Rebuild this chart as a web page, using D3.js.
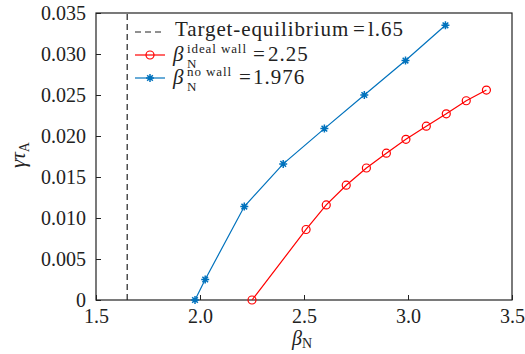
<!DOCTYPE html>
<html>
<head>
<meta charset="utf-8">
<script src="https://cdn.jsdelivr.net/npm/d3@7"></script>
<style>
  body { margin: 0; background: #fff; }
</style>
</head>
<body>
<div id="chart"></div>
<script>
// values
var idealBeta = [2.25, 2.51, 2.607, 2.703, 2.80, 2.896, 2.99, 3.088, 3.184, 3.28, 3.377];
var idealGamma = [0, 0.0086, 0.0116, 0.0140, 0.0161, 0.0179, 0.0196, 0.0212, 0.0227, 0.0243, 0.0256];
var noWallBeta = [1.976, 2.025, 2.213, 2.40, 2.598, 2.79, 2.988, 3.18];
var noWallGamma = [0, 0.0025, 0.0114, 0.0166, 0.0209, 0.0250, 0.0292, 0.0335];
var targetBeta = 1.65;
var xTicks = [1.5, 2.0, 2.5, 3.0, 3.5];
var yTicks = [0, 0.005, 0.010, 0.015, 0.020, 0.025, 0.030, 0.035];

var width = 525, height = 354;
var margin = { top: 13, right: 13, bottom: 54, left: 96 };
var serif = "'Liberation Serif', 'DejaVu Serif', serif";

var svg = d3.select("#chart").append("svg")
            .attr("width", width)
            .attr("height", height)
            .attr("font-family", serif);

var x = d3.scaleLinear().domain([1.5, 3.5]).range([margin.left, width - margin.right]);
var y = d3.scaleLinear().domain([0, 0.035]).range([height - margin.bottom, margin.top]);

var blue = "#0072BD", red = "#FF0000", ink = "#222";

// axes (ticks point inward)
var xAxis = d3.axisBottom(x).tickValues(xTicks).tickSizeInner(-5).tickSizeOuter(0)
              .tickPadding(9).tickFormat(d3.format(".1f"));
var yAxis = d3.axisLeft(y).tickValues(yTicks).tickSizeInner(-5).tickSizeOuter(0)
              .tickPadding(10).tickFormat(d => d === 0 ? "0" : d3.format(".3f")(d));

var gx = svg.append("g").attr("transform", "translate(0," + y(0) + ")").call(xAxis);
var gy = svg.append("g").attr("transform", "translate(" + x(1.5) + ",0)").call(yAxis);
[gx, gy].forEach(g => {
  g.attr("font-family", serif).attr("font-size", 20);
  g.select(".domain").remove();
  g.selectAll("text").attr("fill", ink);
  g.selectAll("line").attr("stroke", ink);
});
gx.selectAll("text").attr("dy", "0.72em");

// frame
svg.append("rect")
   .attr("x", x(1.5)).attr("y", y(0.035))
   .attr("width", x(3.5) - x(1.5)).attr("height", y(0) - y(0.035))
   .attr("fill", "none").attr("stroke", ink).attr("stroke-width", 1.2);

// target equilibrium line
svg.append("line")
   .attr("x1", x(targetBeta)).attr("x2", x(targetBeta))
   .attr("y1", y(0)).attr("y2", y(0.035))
   .attr("stroke", ink).attr("stroke-width", 1.2).attr("stroke-dasharray", "6,4");

var line = d3.line().x(d => x(d[0])).y(d => y(d[1]));
var ideal = d3.zip(idealBeta, idealGamma);
var noWall = d3.zip(noWallBeta, noWallGamma);

svg.append("path").datum(ideal).attr("d", line)
   .attr("fill", "none").attr("stroke", red).attr("stroke-width", 1.2);
svg.append("path").datum(noWall).attr("d", line)
   .attr("fill", "none").attr("stroke", blue).attr("stroke-width", 1.2);

function circle(sel, cx, cy) {
  sel.append("circle").attr("cx", cx).attr("cy", cy).attr("r", 4)
     .attr("fill", "none").attr("stroke", red).attr("stroke-width", 1.2);
}
function star(sel, cx, cy) {
  var r = 4;
  var p = "";
  for (var k = 0; k < 4; k++) {
    var a = k * Math.PI / 4;
    p += "M" + (cx - r * Math.cos(a)) + "," + (cy - r * Math.sin(a)) +
         "L" + (cx + r * Math.cos(a)) + "," + (cy + r * Math.sin(a));
  }
  sel.append("path").attr("d", p).attr("stroke", blue).attr("stroke-width", 1.5);
}

var marks = svg.append("g");
ideal.forEach(d => circle(marks, x(d[0]), y(d[1])));
noWall.forEach(d => star(marks, x(d[0]), y(d[1])));

// legend (no box)
var lg = svg.append("g").attr("font-family", serif).attr("fill", ink);
lg.append("line").attr("x1", 135).attr("x2", 165).attr("y1", 32).attr("y2", 32)
  .attr("stroke", ink).attr("stroke-width", 1.2).attr("stroke-dasharray", "6,4");
lg.append("line").attr("x1", 135).attr("x2", 165).attr("y1", 55).attr("y2", 55)
  .attr("stroke", red).attr("stroke-width", 1.2);
circle(lg, 150, 55);
lg.append("line").attr("x1", 135).attr("x2", 165).attr("y1", 78).attr("y2", 78)
  .attr("stroke", blue).attr("stroke-width", 1.2);
star(lg, 150, 78);

function put(xx, yy, size, str, italic) {
  var t = lg.append("text").attr("x", xx).attr("y", yy).attr("font-size", size).text(str);
  if (italic) t.attr("font-style", "italic");
  return t;
}
put(175, 36, 21, "Target-equilibrium").attr("letter-spacing", 0.9);
put(353, 36, 21, "=");
put(368, 36, 21, "l.65").attr("letter-spacing", 1);

put(173, 61, 21, "β", true);
put(187, 53, 13, "ideal wall").attr("letter-spacing", 0.9);
put(187, 68, 13, "N");
put(253, 61, 21, "=");
put(268, 61, 21, "2.25").attr("letter-spacing", 1);

put(173, 84, 21, "β", true);
put(187, 76, 13, "no wall").attr("letter-spacing", 0.9);
put(187, 91, 13, "N");
put(239, 84, 21, "=");
put(253, 84, 21, "1.976").attr("letter-spacing", 1);

// axis titles
var xl = svg.append("text").attr("x", 302).attr("y", 345).attr("text-anchor", "middle")
            .attr("font-size", 20).attr("fill", ink);
xl.append("tspan").attr("font-style", "italic").text("β");
xl.append("tspan").attr("dy", 3).attr("font-size", 14).text("N");

var yl = svg.append("text").attr("transform", "translate(25,155) rotate(-90)")
            .attr("text-anchor", "middle").attr("font-size", 21).attr("fill", ink);
yl.append("tspan").attr("font-style", "italic").text("γτ");
yl.append("tspan").attr("dy", 4).attr("font-size", 14).text("A");
</script>
</body>
</html>
